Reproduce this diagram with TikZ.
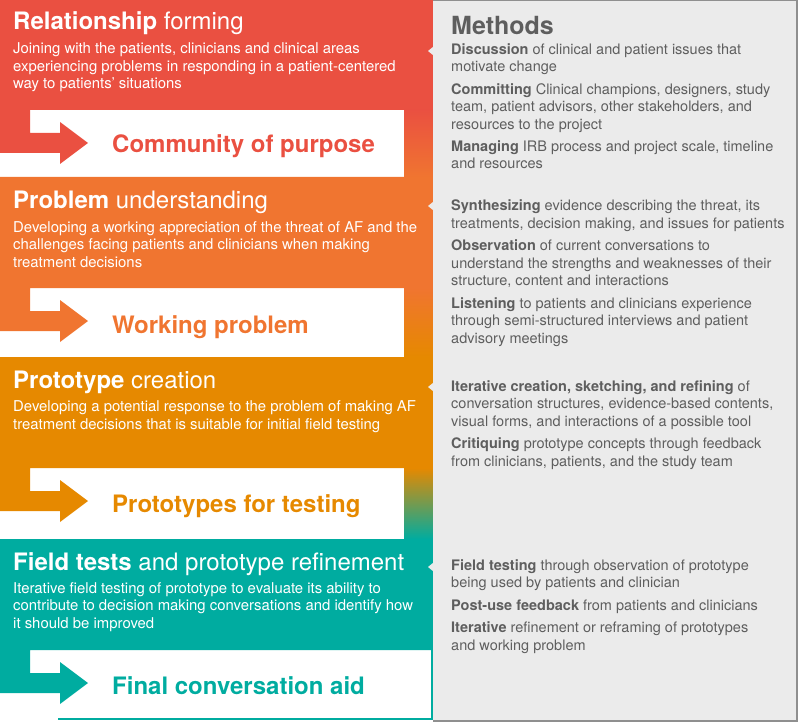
\documentclass[tikz,border=0pt]{standalone}
\usepackage{fontspec}
\setmainfont{TeX Gyre Heros}
\usetikzlibrary{positioning, calc}

\definecolor{relred}{HTML}{EA5041}
\definecolor{proborange}{HTML}{F07530}
\definecolor{protoamber}{HTML}{E68900}
\definecolor{fieldteal}{HTML}{00ACA0}
\definecolor{methodsgray}{HTML}{EBEBEB}
\definecolor{methodsline}{HTML}{8F8F8F}
\definecolor{methodstext}{HTML}{5E5E5E}

\begin{document}
\begin{tikzpicture}[x=1pt, y=-1pt,
        stagetitle/.style={anchor=base west, inner sep=0pt, text=white, font=\fontsize{24}{28}\selectfont},
        stagetext/.style={anchor=base west, inner sep=0pt, text=white, align=left, font=\fontsize{14.9}{17.5}\selectfont},
        outcome/.style={anchor=base west, inner sep=0pt, font=\fontsize{24}{28}\selectfont\bfseries},
        methodtext/.style={anchor=base west, inner sep=0pt, text=methodstext, align=left, font=\fontsize{14.5}{17.5}\selectfont},
        notch/.style={fill=methodsgray}]
        \useasboundingbox (0,0) rectangle (800,722);

        % stage bands with their outcome arrows
        \fill[relred] (0,0) -- (433,0) -- (433,110) -- (30,110) -- (30,133) -- (60,133) -- (60,122) -- (88,143) -- (60,164) -- (60,153) -- (0,153) -- cycle;
        \shade[top color=relred, bottom color=proborange] (404,110) rectangle (433,177);
        \fill[proborange] (0,177) -- (433,177) -- (433,288) -- (30,288) -- (30,311) -- (60,311) -- (60,300) -- (88,321) -- (60,342) -- (60,331) -- (0,331) -- cycle;
        \shade[top color=proborange, bottom color=protoamber] (404,288) rectangle (433,357);
        \fill[protoamber] (0,357) -- (433,357) -- (433,468) -- (30,468) -- (30,491) -- (60,491) -- (60,480) -- (88,501) -- (60,522) -- (60,511) -- (0,511) -- cycle;
        \shade[top color=protoamber, bottom color=fieldteal] (404,468) rectangle (433,539);
        \fill[fieldteal] (0,539) -- (433,539) -- (433,650) -- (30,650) -- (30,673) -- (60,673) -- (60,662) -- (88,683) -- (60,704) -- (60,693) -- (0,693) -- cycle;
        \draw[fieldteal, line width=2pt] (58,719) -- (432,719) -- (432,650);

        % methods panel
        \fill[methodsgray] (433,0) rectangle (797,721);
        \draw[methodsline, line width=1.2pt] (433,0.6) -- (797,0.6) -- (797,721) -- (433,721);
        \fill[notch] (433.5,46.5) -- (428,51) -- (433.5,55.5) -- cycle;
        \fill[notch] (433.5,201.5) -- (428,206) -- (433.5,210.5) -- cycle;
        \fill[notch] (433.5,382.5) -- (428,387) -- (433.5,391.5) -- cycle;
        \fill[notch] (433.5,562.5) -- (428,567) -- (433.5,571.5) -- cycle;

        \node (RelTitle) at (13,30) [stagetitle] {\textbf{Relationship} forming};
        \node (RelText) at ($(RelTitle.base west) + (0,59)$) [stagetext] {Joining with the patients, clinicians and clinical areas\\experiencing problems in responding in a patient-centered\\way to patients' situations};
        \node (RelOutcome) at (112,153) [outcome, text=relred] {Community of purpose};

        \node (ProbTitle) at (13,208) [stagetitle] {\textbf{Problem} understanding};
        \node (ProbText) at ($(ProbTitle.base west) + (0,59)$) [stagetext] {Developing a working appreciation of the threat of AF and the\\challenges facing patients and clinicians when making\\treatment decisions};
        \node (ProbOutcome) at (112,333) [outcome, text=proborange] {Working problem};

        \node (ProtoTitle) at (13,388) [stagetitle] {\textbf{Prototype} creation};
        \node (ProtoText) at ($(ProtoTitle.base west) + (0,41)$) [stagetext] {Developing a potential response to the problem of making AF\\treatment decisions that is suitable for initial field testing};
        \node (ProtoOutcome) at (112,512) [outcome, text=protoamber] {Prototypes for testing};

        \node (FieldTitle) at (13,570) [stagetitle] {\textbf{Field tests} and prototype refinement};
        \node (FieldText) at ($(FieldTitle.base west) + (0,58)$) [stagetext] {Iterative field testing of prototype to evaluate its ability to\\contribute to decision making conversations and identify how\\it should be improved};
        \node (FieldOutcome) at (112,694) [outcome, text=fieldteal] {Final conversation aid};

        \node (MethodsTitle) at (451,35) [anchor=base west, inner sep=0pt, text=methodstext, font=\fontsize{25}{30}\selectfont\bfseries] {Methods};
        \node (RelMethods) at ($(MethodsTitle.base west) + (0,134)$) [methodtext] {\textbf{Discussion} of clinical and patient issues that\\motivate change\\[4.8pt]\textbf{Committing} Clinical champions, designers, study\\team, patient advisors, other stakeholders, and\\resources to the project\\[4.8pt]\textbf{Managing} IRB process and project scale, timeline\\and resources};
        \node (ProbMethods) at (451,343) [methodtext] {\textbf{Synthesizing} evidence describing the threat, its\\treatments, decision making, and issues for patients\\[4.8pt]\textbf{Observation} of current conversations to\\understand the strengths and weaknesses of their\\structure, content and interactions\\[4.8pt]\textbf{Listening} to patients and clinicians experience\\through semi-structured interviews and patient\\advisory meetings};
        \node (ProtoMethods) at (451,466) [methodtext] {\textbf{Iterative creation, sketching, and refining} of\\conversation structures, evidence-based contents,\\visual forms, and interactions of a possible tool\\[4.8pt]\textbf{Critiquing} prototype concepts through feedback\\from clinicians, patients, and the study team};
        \node (FieldMethods) at (451,650) [methodtext] {\textbf{Field testing} through observation of prototype\\being used by patients and clinician\\[4.8pt]\textbf{Post-use feedback} from patients and clinicians\\[4.8pt]\textbf{Iterative} refinement or reframing of prototypes\\and working problem};

        %\draw (RelOutcome) -- (ProbTitle);
\end{tikzpicture}
\end{document}
